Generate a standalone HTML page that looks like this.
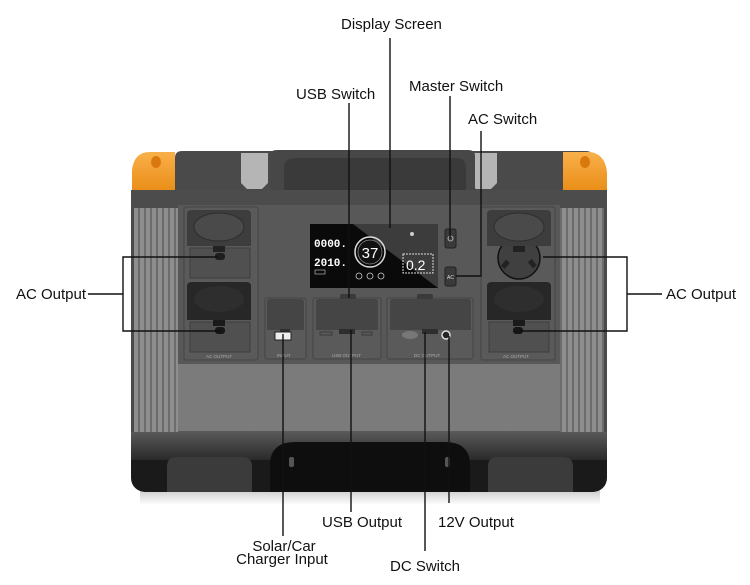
<!DOCTYPE html>
<html><head><meta charset="utf-8"><style>
html,body{margin:0;padding:0;background:#fff;}
svg{display:block;}
.lbl{font-family:"Liberation Sans",Arial,sans-serif;font-size:15px;fill:#111;}
.tiny{font-family:"Liberation Sans",Arial,sans-serif;font-size:4.5px;fill:#aaa;}
</style></head><body>
<svg width="750" height="585" viewBox="0 0 750 585" xmlns="http://www.w3.org/2000/svg">
<defs>
<pattern id="ribs" x="133" y="0" width="6" height="10" patternUnits="userSpaceOnUse">
<rect width="6" height="10" fill="#6c6c6c"/>
<rect x="1" width="4" height="10" fill="#8e8e8e"/>
</pattern>
<pattern id="ribsR" x="561" y="0" width="6" height="10" patternUnits="userSpaceOnUse">
<rect width="6" height="10" fill="#6c6c6c"/>
<rect x="1" width="4" height="10" fill="#8e8e8e"/>
</pattern>
<linearGradient id="band" x1="0" y1="0" x2="0" y2="1">
<stop offset="0" stop-color="#5c5c5c"/><stop offset="1" stop-color="#2a2a2a"/>
</linearGradient>
<linearGradient id="orange" x1="0" y1="0" x2="0" y2="1">
<stop offset="0" stop-color="#f9b04a"/><stop offset="1" stop-color="#e88a12"/>
</linearGradient>
<linearGradient id="shadow" x1="0" y1="0" x2="0" y2="1">
<stop offset="0" stop-color="#bbb"/><stop offset="1" stop-color="#fff"/>
</linearGradient>
</defs>

<!-- shadow -->
<rect x="140" y="485" width="460" height="20" fill="url(#shadow)"/>

<!-- body base -->
<rect x="131" y="190" width="476" height="302" rx="14" fill="#1a1a1a"/>
<rect x="131" y="190" width="476" height="242" fill="#555"/>
<rect x="131" y="430" width="476" height="30" fill="url(#band)"/>
<!-- bottom recess handle -->
<path d="M270 492 L270 462 Q272 442 295 442 L445 442 Q468 442 470 462 L470 492 Z" fill="#0e0e0e"/>
<rect x="289" y="457" width="5" height="10" rx="2" fill="#555"/>
<rect x="445" y="457" width="5" height="10" rx="2" fill="#555"/>
<!-- feet -->
<path d="M167 492 L167 465 Q168 457 176 457 L242 457 Q251 457 252 465 L252 492 Z" fill="#3b3b3b"/>
<path d="M488 492 L488 465 Q489 457 497 457 L563 457 Q572 457 573 465 L573 492 Z" fill="#3b3b3b"/>

<!-- top lid -->
<path d="M175 197 L175 158 Q175 151 182 151 L586 151 Q593 151 593 158 L593 197 Z" fill="#4a4a4a"/>
<!-- light caps -->
<path d="M241 153 L268 153 L268 183 L262 189 L247 189 L241 183 Z" fill="#b5b5b5"/>
<path d="M470 153 L497 153 L497 183 L491 189 L476 189 L470 183 Z" fill="#b5b5b5"/>
<!-- handle -->
<path d="M270 197 L270 156 Q270 150 277 150 L468 150 Q475 150 475 156 L475 197 Z" fill="#474747"/>
<path d="M284 190 L284 168 Q284 158 296 158 L456 158 Q466 158 466 168 L466 190 Z" fill="#3a3a3a"/>
<!-- orange corners -->
<path d="M132 195 L132 170 Q134 152 150 152 L175 152 L175 195 Z" fill="url(#orange)"/>
<ellipse cx="156" cy="162" rx="5" ry="6" fill="#d9780c"/>
<path d="M563 195 L563 152 L590 152 Q605 154 607 172 L607 195 Z" fill="url(#orange)"/>
<ellipse cx="585" cy="162" rx="5" ry="6" fill="#d9780c"/>
<rect x="131" y="190" width="476" height="20" fill="#4c4c4c"/>

<!-- side ribs -->
<rect x="131" y="208" width="47" height="224" fill="url(#ribs)"/>
<rect x="131" y="208" width="3" height="224" fill="#4a4a4a"/>
<rect x="560" y="208" width="47" height="224" fill="url(#ribsR)"/>
<rect x="604" y="208" width="3" height="224" fill="#4a4a4a"/>
<!-- port area -->
<rect x="178" y="205" width="382" height="160" fill="#585858"/>
<!-- lower light panel -->
<rect x="178" y="364" width="382" height="67" fill="#7b7b7b"/>

<!-- left AC panel -->
<rect x="184" y="207" width="74" height="153" rx="2" fill="#5a5a5a" stroke="#444"/>
<rect x="190" y="248" width="60" height="30" fill="#505050" stroke="#3e3e3e"/>
<rect x="190" y="322" width="60" height="30" fill="#505050" stroke="#3e3e3e"/>
<path d="M187 246 L187 214 Q187 210 192 210 L246 210 Q251 210 251 214 L251 246 Z" fill="#3d3d3d"/>
<ellipse cx="219" cy="227" rx="25" ry="14" fill="#4a4a4a" stroke="#2e2e2e"/>
<rect x="213" y="246" width="12" height="6" fill="#222"/>
<rect x="215" y="253" width="10" height="7" rx="3" fill="#1e1e1e"/>
<path d="M187 320 L187 286 Q187 282 192 282 L246 282 Q251 282 251 286 L251 320 Z" fill="#272727"/>
<ellipse cx="219" cy="299" rx="25" ry="13" fill="#2e2e2e"/>
<rect x="213" y="320" width="12" height="6" fill="#1a1a1a"/>
<rect x="215" y="327" width="10" height="7" rx="3" fill="#161616"/>
<text class="tiny" x="206" y="358">AC OUTPUT</text>

<!-- right AC panel -->
<rect x="481" y="207" width="74" height="153" rx="2" fill="#5a5a5a" stroke="#444"/>
<circle cx="519" cy="258" r="21" fill="#404040" stroke="#111" stroke-width="1.5"/>
<rect x="503" y="260" width="5" height="8" fill="#222" transform="rotate(40 505 264)"/>
<rect x="530" y="260" width="5" height="8" fill="#222" transform="rotate(-40 532 264)"/>
<rect x="489" y="322" width="60" height="30" fill="#505050" stroke="#3e3e3e"/>
<path d="M487 246 L487 214 Q487 210 492 210 L546 210 Q551 210 551 214 L551 246 Z" fill="#3d3d3d"/>
<ellipse cx="519" cy="227" rx="25" ry="14" fill="#4a4a4a" stroke="#2e2e2e"/>
<rect x="513" y="246" width="12" height="6" fill="#222"/>
<path d="M487 320 L487 286 Q487 282 492 282 L546 282 Q551 282 551 286 L551 320 Z" fill="#272727"/>
<ellipse cx="519" cy="299" rx="25" ry="13" fill="#2e2e2e"/>
<rect x="513" y="320" width="12" height="6" fill="#1a1a1a"/>
<rect x="513" y="327" width="10" height="7" rx="3" fill="#161616"/>
<text class="tiny" x="503" y="358">AC OUTPUT</text>

<!-- INPUT panel -->
<rect x="265" y="298" width="41" height="61" rx="2" fill="#5a5a5a" stroke="#444"/>
<path d="M267 330 L267 302 Q267 299 270 299 L301 299 Q304 299 304 302 L304 330 Z" fill="#454545"/>
<rect x="280" y="329" width="10" height="5" fill="#2e2e2e"/>
<rect x="275" y="332" width="16" height="8" fill="#eee" stroke="#222"/>
<text class="tiny" x="277" y="357">INPUT</text>
<!-- USB panel -->
<rect x="313" y="298" width="68" height="61" rx="2" fill="#5a5a5a" stroke="#444"/>
<rect x="340" y="294" width="16" height="7" rx="2" fill="#3a3a3a"/>
<path d="M316 330 L316 302 Q316 299 319 299 L375 299 Q378 299 378 302 L378 330 Z" fill="#454545"/>
<rect x="339" y="329" width="16" height="5" fill="#2e2e2e"/>
<rect x="320" y="332" width="12" height="3" fill="none" stroke="#333" stroke-width="0.8"/>
<rect x="362" y="332" width="10" height="3" fill="none" stroke="#333" stroke-width="0.8"/>
<text class="tiny" x="332" y="357">USB OUTPUT</text>
<!-- DC panel -->
<rect x="387" y="298" width="86" height="61" rx="2" fill="#5a5a5a" stroke="#444"/>
<rect x="417" y="294" width="16" height="7" rx="2" fill="#3a3a3a"/>
<path d="M390 330 L390 302 Q390 299 393 299 L468 299 Q471 299 471 302 L471 330 Z" fill="#454545"/>
<rect x="422" y="329" width="16" height="5" fill="#2e2e2e"/>
<ellipse cx="410" cy="335" rx="8" ry="4" fill="#777"/>
<circle cx="446" cy="335" r="4" fill="#222" stroke="#ddd" stroke-width="1.5"/>
<text class="tiny" x="414" y="357">DC OUTPUT</text>

<!-- screen -->
<rect x="310" y="224" width="128" height="64" fill="#3c3c3c"/>
<path d="M310 224 L353 224 L438 288 L310 288 Z" fill="#0a0a0a"/>
<text x="314" y="247" font-family="Liberation Mono,monospace" font-size="11" fill="#fff" font-weight="bold">0000.</text>
<text x="314" y="266" font-family="Liberation Mono,monospace" font-size="11" fill="#fff" font-weight="bold">2010.</text>
<rect x="315" y="270" width="10" height="4" fill="none" stroke="#ccc" stroke-width="0.6"/>
<circle cx="370" cy="252" r="15" fill="none" stroke="#ddd" stroke-width="1.5"/>
<circle cx="370" cy="252" r="12" fill="#111" stroke="#888" stroke-width="0.8"/>
<text x="370" y="258" text-anchor="middle" font-family="Liberation Sans,sans-serif" font-size="15" fill="#fff">37</text>
<circle cx="359" cy="276" r="3" fill="none" stroke="#ccc" stroke-width="0.8"/>
<circle cx="370" cy="276" r="3" fill="none" stroke="#ccc" stroke-width="0.8"/>
<circle cx="381" cy="276" r="3" fill="none" stroke="#ccc" stroke-width="0.8"/>
<circle cx="412" cy="234" r="2" fill="#ccc"/>
<rect x="403" y="254" width="30" height="19" fill="none" stroke="#ddd" stroke-width="1" stroke-dasharray="2 1"/>
<text x="406" y="270" font-family="Liberation Sans,sans-serif" font-size="14" fill="#fff">0.2</text>
<!-- buttons -->
<rect x="445" y="229" width="11" height="19" rx="2" fill="#3a3a3a" stroke="#222"/>
<circle cx="450.5" cy="238.5" r="2.5" fill="none" stroke="#ccc" stroke-width="0.8"/>
<rect x="445" y="267" width="11" height="19" rx="2" fill="#3a3a3a" stroke="#222"/>
<text x="447" y="279" font-family="Liberation Sans,sans-serif" font-size="5" fill="#ddd">AC</text>

<!-- connector lines -->
<g stroke="#111" stroke-width="1.4" fill="none">
<line x1="390" y1="38" x2="390" y2="228"/>
<line x1="349" y1="103" x2="349" y2="298"/>
<line x1="450" y1="96" x2="450" y2="238"/>
<polyline points="481,131 481,276 456,276"/>
<line x1="283" y1="334" x2="283" y2="536"/>
<line x1="351" y1="330" x2="351" y2="512"/>
<line x1="425" y1="332" x2="425" y2="551"/>
<line x1="449" y1="336" x2="449" y2="503"/>
<polyline points="218,257 123,257 123,331 220,331"/>
<line x1="88" y1="294" x2="123" y2="294"/>
<polyline points="543,257 627,257 627,331 520,331"/>
<line x1="627" y1="294" x2="662" y2="294"/>
</g>

<!-- labels -->
<text class="lbl" x="341" y="29">Display Screen</text>
<text class="lbl" x="296" y="99">USB Switch</text>
<text class="lbl" x="409" y="91">Master Switch</text>
<text class="lbl" x="468" y="124">AC Switch</text>
<text class="lbl" x="16" y="299">AC Output</text>
<text class="lbl" x="666" y="299">AC Output</text>
<text class="lbl" x="322" y="527">USB Output</text>
<text class="lbl" x="438" y="527">12V Output</text>
<text class="lbl" x="284" y="551" text-anchor="middle">Solar/Car</text>
<text class="lbl" x="282" y="564" text-anchor="middle">Charger Input</text>
<text class="lbl" x="390" y="571">DC Switch</text>
</svg>
</body></html>
